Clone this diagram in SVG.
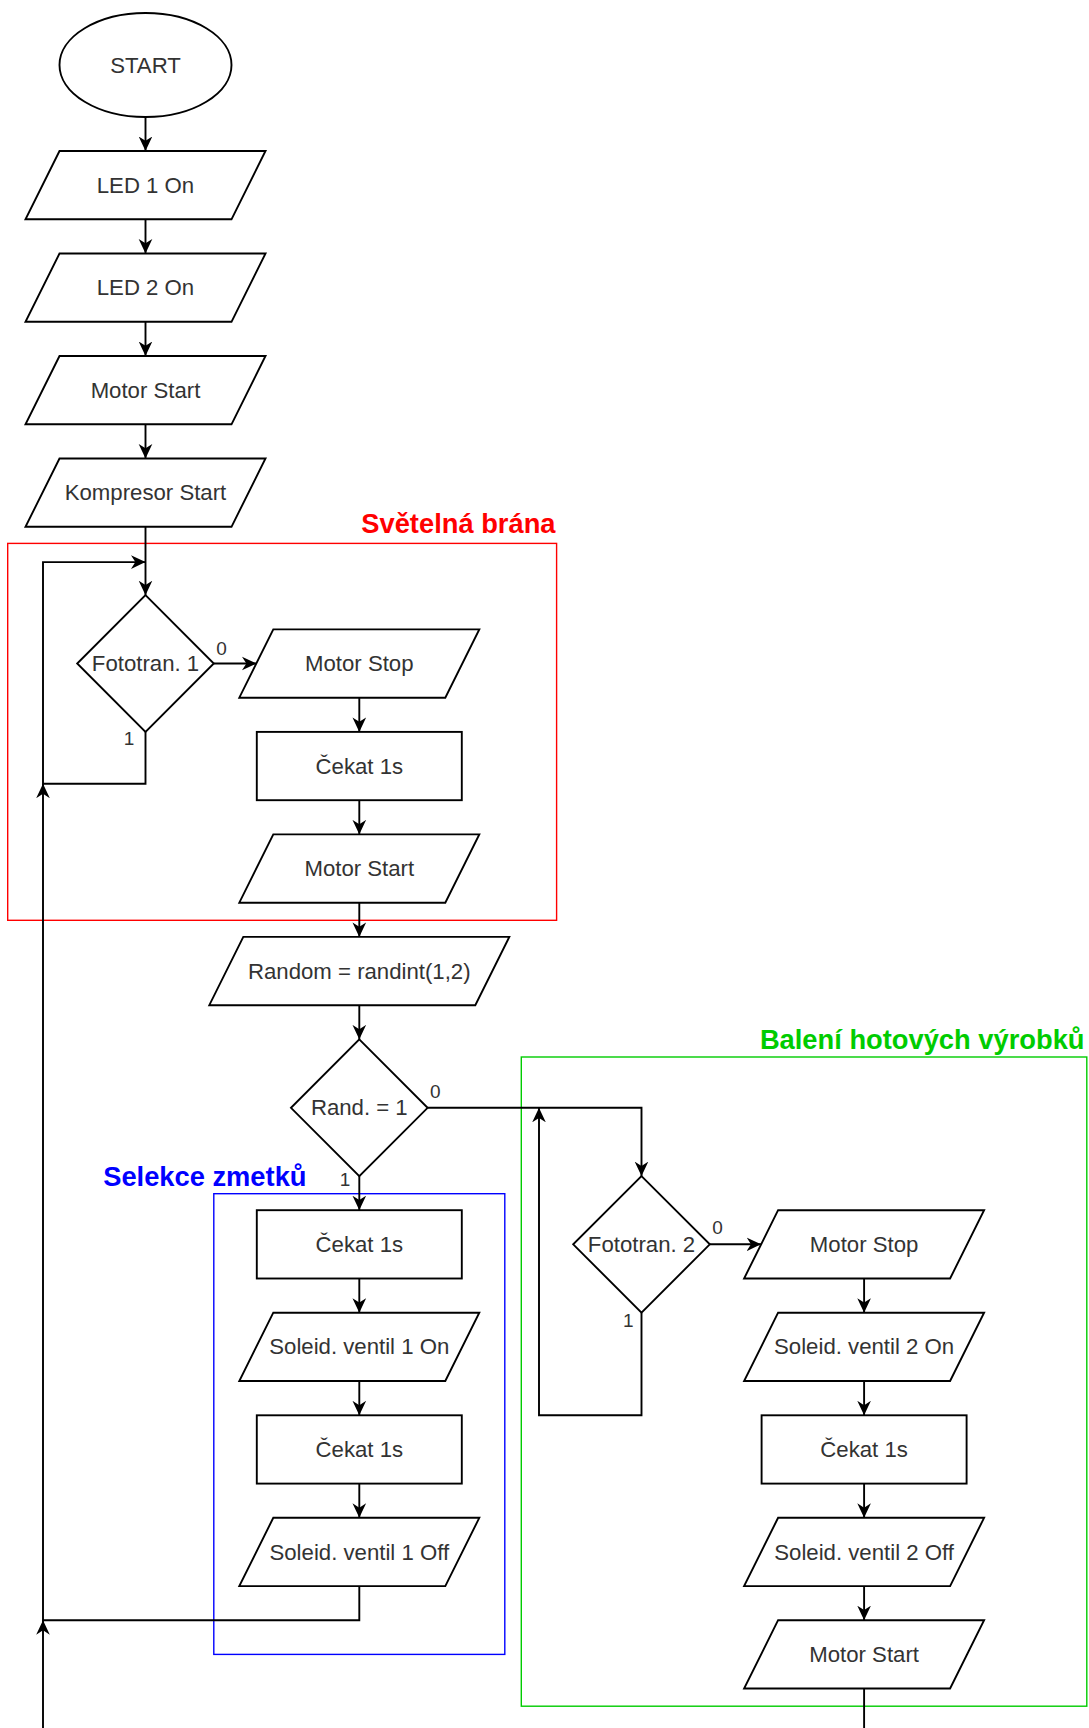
<svg xmlns="http://www.w3.org/2000/svg" width="1089" height="1728" viewBox="0 0 1089 1728">
<style>
.n{fill:#fff;stroke:#000;stroke-width:1.9}
.t{font-family:"Liberation Sans",Arial,sans-serif;font-size:22.2px;fill:#333;text-anchor:middle;dominant-baseline:central}
.l{font-family:"Liberation Sans",Arial,sans-serif;font-size:19px;fill:#333;text-anchor:middle;dominant-baseline:central}
.c{fill:none;stroke:#000;stroke-width:1.9}
.a{marker-end:url(#arr)}
.g{fill:none;stroke-width:1.4}
.h{font-family:"Liberation Sans",Arial,sans-serif;font-size:27.3px;font-weight:bold;text-anchor:end;dominant-baseline:central}
</style>
<defs>
<marker id="arr" viewBox="0 0 10 10" refX="10" refY="5" markerWidth="14.5" markerHeight="14.5" markerUnits="userSpaceOnUse" orient="auto">
<path d="M0,0.3 L10,5 L0,9.7 L3,5 z" fill="#000"/>
</marker>
</defs>
<rect width="1089" height="1728" fill="#fff"/>

<g id="groups">
<rect x="7.7" y="543.4" width="548.9" height="376.9" stroke="#FF0000" class="g"/>
<text x="555.5" y="523" class="h" fill="#FF0000">Světelná brána</text>
<rect x="213.8" y="1193.7" width="291" height="460.7" stroke="#0000FF" class="g"/>
<text x="306.5" y="1176" class="h" fill="#0000FF">Selekce zmetků</text>
<rect x="521.3" y="1057" width="565.5" height="649.2" stroke="#00CC00" class="g"/>
<text x="1084.5" y="1039" class="h" fill="#00CC00">Balení hotových výrobků</text>
</g>

<g id="connectors">
<line x1="145.5" y1="117" x2="145.5" y2="151" class="c a"/>
<line x1="145.5" y1="219.3" x2="145.5" y2="253.5" class="c a"/>
<line x1="145.5" y1="321.8" x2="145.5" y2="356" class="c a"/>
<line x1="145.5" y1="424.3" x2="145.5" y2="458.5" class="c a"/>
<line x1="145.5" y1="526.8" x2="145.5" y2="595.2" class="c a"/>
<polyline points="145.5,731.8 145.5,783.7 43,783.7 43,562.1 145.5,562.1" class="c a"/>
<text x="129" y="738.5" class="l">1</text>
<line x1="213.8" y1="663.5" x2="256.5" y2="663.5" class="c a"/>
<text x="221.5" y="648" class="l">0</text>
<line x1="359.3" y1="697.7" x2="359.3" y2="731.9" class="c a"/>
<line x1="359.3" y1="800.2" x2="359.3" y2="834.4" class="c a"/>
<line x1="359.3" y1="902.7" x2="359.3" y2="936.9" class="c a"/>
<line x1="359.3" y1="1005.2" x2="359.3" y2="1039.4" class="c a"/>
<polyline points="427.6,1107.8 641.5,1107.8 641.5,1176.1" class="c a"/>
<text x="435.4" y="1091.2" class="l">0</text>
<line x1="359.3" y1="1176.1" x2="359.3" y2="1210.2" class="c a"/>
<text x="345" y="1179.4" class="l">1</text>
<line x1="359.3" y1="1278.5" x2="359.3" y2="1312.7" class="c a"/>
<line x1="359.3" y1="1381" x2="359.3" y2="1415.3" class="c a"/>
<line x1="359.3" y1="1483.6" x2="359.3" y2="1517.8" class="c a"/>
<polyline points="359.3,1586.1 359.3,1620.2 43,1620.2 43,783.7" class="c a"/>
<line x1="43" y1="1728" x2="43" y2="1620.2" class="c a"/>
<polyline points="641.5,1312.7 641.5,1415.3 539,1415.3 539,1107.8" class="c a"/>
<text x="628.3" y="1320.4" class="l">1</text>
<line x1="709.8" y1="1244.3" x2="761.1" y2="1244.3" class="c a"/>
<text x="717.5" y="1227.9" class="l">0</text>
<line x1="864.1" y1="1278.5" x2="864.1" y2="1312.7" class="c a"/>
<line x1="864.1" y1="1381" x2="864.1" y2="1415.3" class="c a"/>
<line x1="864.1" y1="1483.6" x2="864.1" y2="1517.8" class="c a"/>
<line x1="864.1" y1="1586.1" x2="864.1" y2="1620.2" class="c a"/>
<line x1="864.1" y1="1688.5" x2="864.1" y2="1728" class="c"/>
</g>

<g id="start"><ellipse cx="145.5" cy="65" rx="86" ry="52" class="n" stroke-width="3"/><text x="145.5" y="65" class="t">START</text></g>
<g id="led1"><polygon points="59.5,151 265.5,151 231.5,219.3 25.5,219.3" class="n"/><text x="145.5" y="185.2" class="t">LED 1 On</text></g>
<g id="led2"><polygon points="59.5,253.5 265.5,253.5 231.5,321.8 25.5,321.8" class="n"/><text x="145.5" y="287.7" class="t">LED 2 On</text></g>
<g id="motorstart1"><polygon points="59.5,356 265.5,356 231.5,424.3 25.5,424.3" class="n"/><text x="145.5" y="390.2" class="t">Motor Start</text></g>
<g id="kompresor"><polygon points="59.5,458.5 265.5,458.5 231.5,526.8 25.5,526.8" class="n"/><text x="145.5" y="492.7" class="t">Kompresor Start</text></g>
<g id="fototran1"><polygon points="145.5,595.2 213.8,663.5 145.5,731.8 77.2,663.5" class="n"/><text x="145.5" y="663.5" class="t">Fototran. 1</text></g>
<g id="motorstop1"><polygon points="273.3,629.4 479.3,629.4 445.3,697.7 239.3,697.7" class="n"/><text x="359.3" y="663.5" class="t">Motor Stop</text></g>
<g id="cekat1"><rect x="256.8" y="731.9" width="205" height="68.3" class="n"/><text x="359.3" y="766" class="t">Čekat 1s</text></g>
<g id="motorstart2"><polygon points="273.3,834.4 479.3,834.4 445.3,902.7 239.3,902.7" class="n"/><text x="359.3" y="868.5" class="t">Motor Start</text></g>
<g id="random"><polygon points="243.3,936.9 509.3,936.9 475.3,1005.2 209.3,1005.2" class="n"/><text x="359.3" y="971" class="t">Random = randint(1,2)</text></g>
<g id="rand"><polygon points="359.3,1039.4 427.6,1107.8 359.3,1176.1 291,1107.8" class="n"/><text x="359.3" y="1107.8" class="t">Rand. = 1</text></g>
<g id="cekat2"><rect x="256.8" y="1210.2" width="205" height="68.3" class="n"/><text x="359.3" y="1244.3" class="t">Čekat 1s</text></g>
<g id="sv1on"><polygon points="273.3,1312.7 479.3,1312.7 445.3,1381 239.3,1381" class="n"/><text x="359.3" y="1346.8" class="t">Soleid. ventil 1 On</text></g>
<g id="cekat3"><rect x="256.8" y="1415.3" width="205" height="68.3" class="n"/><text x="359.3" y="1449.4" class="t">Čekat 1s</text></g>
<g id="sv1off"><polygon points="273.3,1517.8 479.3,1517.8 445.3,1586.1 239.3,1586.1" class="n"/><text x="359.3" y="1552" class="t">Soleid. ventil 1 Off</text></g>
<g id="fototran2"><polygon points="641.5,1176.1 709.8,1244.3 641.5,1312.7 573.2,1244.3" class="n"/><text x="641.5" y="1244.3" class="t">Fototran. 2</text></g>
<g id="motorstop2"><polygon points="778.1,1210.2 984.1,1210.2 950.1,1278.5 744.1,1278.5" class="n"/><text x="864.1" y="1244.3" class="t">Motor Stop</text></g>
<g id="sv2on"><polygon points="778.1,1312.7 984.1,1312.7 950.1,1381 744.1,1381" class="n"/><text x="864.1" y="1346.8" class="t">Soleid. ventil 2 On</text></g>
<g id="cekat4"><rect x="761.6" y="1415.3" width="205" height="68.3" class="n"/><text x="864.1" y="1449.4" class="t">Čekat 1s</text></g>
<g id="sv2off"><polygon points="778.1,1517.8 984.1,1517.8 950.1,1586.1 744.1,1586.1" class="n"/><text x="864.1" y="1552" class="t">Soleid. ventil 2 Off</text></g>
<g id="motorstart3"><polygon points="778.1,1620.2 984.1,1620.2 950.1,1688.5 744.1,1688.5" class="n"/><text x="864.1" y="1654.4" class="t">Motor Start</text></g>
</svg>
